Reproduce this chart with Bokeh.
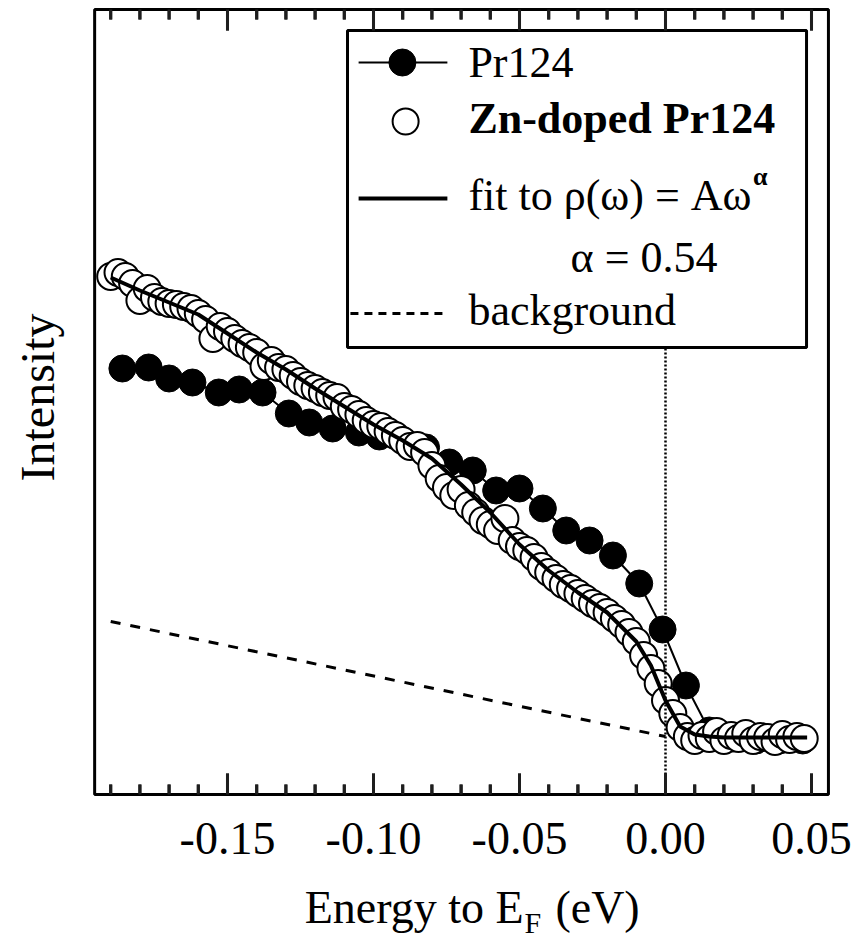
import math
from bokeh.plotting import figure
from bokeh.models import Range1d, Label, BoxAnnotation
from bokeh.embed import file_html
from bokeh.resources import INLINE

# ---------------- data ----------------
pr124_energy = [-0.186, -0.177, -0.170, -0.162, -0.153, -0.146, -0.138, -0.129, -0.122, -0.114,
                -0.105, -0.098, -0.089, -0.082, -0.074, -0.066, -0.058, -0.050, -0.042, -0.034,
                -0.026, -0.018, -0.009, -0.001, 0.007, 0.015, 0.023, 0.031, 0.039, 0.047]
pr124_intensity = [4.26, 4.27, 4.16, 4.12, 4.02, 4.05, 4.02, 3.81, 3.72, 3.66,
                   3.62, 3.58, 3.52, 3.47, 3.32, 3.24, 3.04, 3.06, 2.86, 2.64,
                   2.54, 2.39, 2.11, 1.65, 1.09, 0.64, 0.56, 0.54, 0.54, 0.54]

zn_energy = [-0.1900, -0.1875, -0.1850, -0.1825, -0.1800, -0.1775, -0.1750, -0.1725, -0.1700, -0.1675,
             -0.1650, -0.1625, -0.1600, -0.1575, -0.1550, -0.1525, -0.1500, -0.1475, -0.1450, -0.1425,
             -0.1400, -0.1375, -0.1350, -0.1325, -0.1300, -0.1275, -0.1250, -0.1225, -0.1200, -0.1175,
             -0.1150, -0.1125, -0.1100, -0.1075, -0.1050, -0.1025, -0.1000, -0.0975, -0.0950, -0.0925,
             -0.0900, -0.0875, -0.0850, -0.0825, -0.0800, -0.0775, -0.0750, -0.0725, -0.0700, -0.0675,
             -0.0650, -0.0625, -0.0600, -0.0575, -0.0550, -0.0525, -0.0500, -0.0475, -0.0450, -0.0425,
             -0.0400, -0.0375, -0.0350, -0.0325, -0.0300, -0.0275, -0.0250, -0.0225, -0.0200, -0.0175,
             -0.0150, -0.0125, -0.0100, -0.0075, -0.0050, -0.0025, 0.0000, 0.0025, 0.0050, 0.0075,
             0.0100, 0.0125, 0.0150, 0.0175, 0.0200, 0.0225, 0.0250, 0.0275, 0.0300, 0.0325,
             0.0350, 0.0375, 0.0400, 0.0425, 0.0450, 0.0475]
zn_intensity = [5.18, 5.22, 5.18, 5.11, 4.94, 5.06, 4.97, 4.93, 4.91, 4.90,
                4.88, 4.86, 4.81, 4.75, 4.56, 4.68, 4.63, 4.56, 4.51, 4.47,
                4.42, 4.28, 4.34, 4.27, 4.25, 4.19, 4.13, 4.09, 4.06, 4.02,
                3.99, 3.97, 3.88, 3.85, 3.80, 3.74, 3.70, 3.68, 3.63, 3.59,
                3.54, 3.48, 3.49, 3.42, 3.29, 3.16, 3.07, 2.99, 3.05, 2.89,
                2.82, 2.74, 2.70, 2.64, 2.76, 2.54, 2.48, 2.44, 2.37, 2.28,
                2.22, 2.16, 2.10, 2.06, 2.01, 1.96, 1.91, 1.87, 1.82, 1.76,
                1.70, 1.62, 1.53, 1.39, 1.26, 1.11, 0.94, 0.81, 0.67, 0.58,
                0.54, 0.59, 0.56, 0.63, 0.54, 0.59, 0.56, 0.61, 0.54, 0.58,
                0.57, 0.53, 0.60, 0.55, 0.58, 0.56]

fit_energy = [-0.19, -0.18, -0.17, -0.16, -0.15, -0.14, -0.13, -0.12, -0.11, -0.10,
              -0.09, -0.08, -0.07, -0.06, -0.05, -0.04, -0.03, -0.02, -0.01, -0.005,
              0.0, 0.005, 0.01, 0.015, 0.02, 0.03, 0.04, 0.0485]
fit_intensity = [5.17, 5.04, 4.92, 4.80, 4.61, 4.42, 4.25, 4.06, 3.88, 3.70,
                 3.54, 3.36, 3.10, 2.82, 2.50, 2.24, 2.02, 1.82, 1.53, 1.29,
                 0.94, 0.68, 0.60, 0.58, 0.57, 0.57, 0.57, 0.57]

bg_energy = [-0.190, 0.0]
bg_intensity = [1.73, 0.58]

fermi_level = 0.0
major_ticks = [-0.15, -0.10, -0.05, 0.00, 0.05]
x_tick_labels = ["-0.15", "-0.10", "-0.05", "0.00", "0.05"]
minor_ticks = [-0.19, -0.18, -0.17, -0.16, -0.14, -0.13, -0.12, -0.11, -0.09, -0.08,
               -0.07, -0.06, -0.04, -0.03, -0.02, -0.01, 0.01, 0.02, 0.03, 0.04]
x_label_parts = ["Energy to E", "F", "(eV)"]
y_label = "Intensity"
legend_labels = ["Pr124", "Zn-doped Pr124", "fit to \u03c1(\u03c9) = A\u03c9", "\u03b1",
                 "\u03b1 = 0.54", "background"]

# ---------------- geometry / style ----------------
FONT = "Liberation Serif"
TICK_COLOR = "#1e1e1e"
X_LO, X_HI = -0.1955, 0.0558          # axis limits (plot box)
Y_LO, Y_HI = 0.0, 7.85
CANVAS_X = (-0.22774, 0.065753)       # drawing area spans the whole page
CANVAS_Y = (-1.50, 7.94)
MAJ_LEN, MIN_LEN = 0.21, 0.10
TICK_HALF_W = 0.00052                  # half of a 3 px tick, in energy units

p = figure(width=857, height=944, title=None,
           x_range=Range1d(*CANVAS_X), y_range=Range1d(*CANVAS_Y),
           x_axis_type=None, y_axis_type=None,
           output_backend="svg", toolbar_location=None,
           min_border=0, min_border_left=0, min_border_right=0,
           min_border_top=0, min_border_bottom=0)
p.outline_line_color = None
p.background_fill_color = "white"
p.border_fill_color = "white"

# inward ticks, drawn first as glyphs
for y_edge, sign in ((Y_LO, 1), (Y_HI, -1)):
    for ticks, length in ((major_ticks, MAJ_LEN), (minor_ticks, MIN_LEN)):
        p.segment(x0=list(ticks), y0=[y_edge] * len(ticks),
                  x1=[t + 0.0 for t in ticks], y1=[y_edge + sign * length] * len(ticks),
                  line_color=TICK_COLOR, line_width=3)

# ---------------- data glyphs ----------------
p.line(pr124_energy, pr124_intensity, line_color="black", line_width=2)
p.scatter(pr124_energy, pr124_intensity, marker="circle", size=27,
          fill_color="black", line_color="black", line_width=1)
p.scatter(zn_energy, zn_intensity, marker="circle", size=27,
          fill_color="white", line_color="black", line_width=2)
p.line(bg_energy, bg_intensity, line_color="black", line_width=3, line_dash="10 10")
p.line(fit_energy, fit_intensity, line_color="black", line_width=4)

# Fermi level (dotted vertical line through the plot box)
p.segment(x0=[fermi_level], y0=[Y_LO], x1=[fermi_level], y1=[Y_HI],
          line_color="black", line_width=2.5, line_dash="2 2")

# ---------------- plot box ----------------
p.quad(left=[X_LO], right=[X_HI], bottom=[Y_LO], top=[Y_HI],
       fill_color=None, line_color="black", line_width=3)

# ---------------- legend (drawn by hand) ----------------
p.quad(left=[-0.1089], right=[0.0483], bottom=[4.47], top=[7.64],
       fill_color="white", line_color="black", line_width=3)
p.line([-0.1051, -0.0747], [7.32, 7.32], line_color="black", line_width=2)
p.scatter([-0.0901], [7.32], marker="circle", size=27, fill_color="black", line_color="black")
p.scatter([-0.0890], [6.73], marker="circle", size=26, fill_color="white",
          line_color="black", line_width=2)
p.line([-0.1051, -0.0747], [5.96, 5.96], line_color="black", line_width=4)
p.line([-0.1079, -0.0747], [4.81, 4.81], line_color="black", line_width=3, line_dash="8 6")

# inward ticks again as thin boxes (annotation layer, above the legend box)
for y_edge, sign in ((Y_LO, 1), (Y_HI, -1)):
    for ticks, length in ((major_ticks, MAJ_LEN), (minor_ticks, MIN_LEN)):
        for t in ticks:
            lo, hi = sorted((y_edge, y_edge + sign * length))
            p.add_layout(BoxAnnotation(left=t - TICK_HALF_W, right=t + TICK_HALF_W,
                                       bottom=lo, top=hi, fill_color=TICK_COLOR,
                                       fill_alpha=1.0, line_alpha=0.0))


def text(x, y, s, size, align="left", style="normal", angle=0.0):
    p.add_layout(Label(x=x, y=y, text=s, text_font=FONT, text_font_size=size,
                       text_font_style=style, text_align=align, text_baseline="middle",
                       text_color="black", angle=angle))


leg_x = -0.0675
text(leg_x, 7.32, legend_labels[0], "44px")
text(leg_x, 6.76, legend_labels[1], "44px", style="bold")
text(leg_x, 5.99, legend_labels[2], "44px")
text(0.0300, 6.18, legend_labels[3], "26px", style="bold")
text(-0.0325, 5.37, legend_labels[4], "44px")
text(leg_x, 4.84, legend_labels[5], "44px")

# tick labels
for t, lab in zip(major_ticks, x_tick_labels):
    text(t, -0.435, lab, "46px", align="center")

# axis titles
text(-0.0486, -1.125, x_label_parts[0], "46px", align="right")
text(-0.0483, -1.28, x_label_parts[1], "30px")
text(-0.0377, -1.125, x_label_parts[2], "46px")
text(-0.2151, 3.97, y_label, "48px", align="center", angle=math.pi / 2)

open("out.html", "w").write(file_html(p, INLINE))
